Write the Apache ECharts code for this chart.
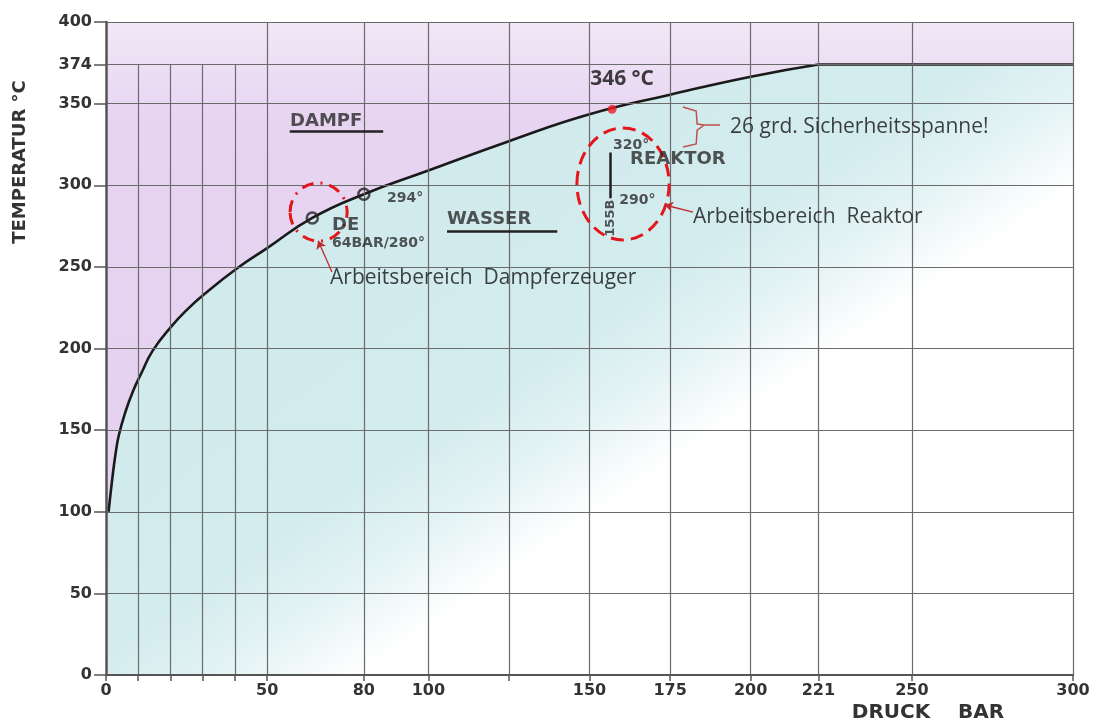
<!DOCTYPE html>
<html>
<head>
<meta charset="utf-8">
<title>Dampfdruckkurve Wasser</title>
<script src="https://cdn.jsdelivr.net/npm/echarts@6/dist/echarts.min.js"></script>
<style>
    html, body { margin: 0; padding: 0; background: #fff; }
    #chart { width: 1096px; height: 721px; }
</style>
</head>
<body>
<div id="chart"></div>
<script>
/* ---------- data ---------- */

// Sattdampfkurve (Druck bar / Temperatur °C)
var druck = [0.8, 2, 3, 4, 6, 8.4, 11, 14.6, 20.5, 25, 30, 40.6, 50, 64, 80, 100, 125, 150, 175, 200, 221];
var temperatur = [100, 121, 136, 147, 161, 174, 185, 199, 214, 223.5, 232.5, 249, 261.5, 280, 294.5, 309, 327, 343.5, 355.5, 366.5, 374];
// kritischer Punkt -> waagerecht weiter
var druckUeberkritisch = [221, 300];
var tempUeberkritisch = [374, 374];

var xTicks = [0, 10, 20, 30, 40, 50, 80, 100, 125, 150, 175, 200, 221, 250, 300];
var xLabels = [0, 50, 80, 100, 150, 175, 200, 221, 250, 300];
var yLabels = [0, 50, 100, 150, 200, 250, 300, 350, 374, 400];
var xLinienKurz = [10, 20, 30, 40];          // enden bei 374
var xLinienLang = [50, 80, 100, 125, 150, 175, 200, 221, 250, 300];
var yLinien = [50, 100, 150, 200, 250, 300, 350, 374, 400];

var kreisPunkte = [[64, 280], [80, 294.5]];
var grenzPunkt = [[157, 346.5]];
var reaktorStrich = [[156.4, 292], [156.4, 320]];

// Bereiche: [pMin, pMax, tMin, tMax]
var bereiche = [[57.1, 74.8, 265.8, 301.4], [146.1, 174.7, 266.5, 335.1]];

var pfeilDE = [[70.1, 246.8], [65.8, 266]];
var pfeilReaktor = [[182.1, 283.6], [173.4, 287.9]];
var klammerOben = [[179, 347.9], [183.1, 345.5], [183.4, 337.5], [185.6, 336.9], [190.5, 336.9]];
var klammerUnten = [[185.6, 336.9], [183.4, 333.8], [183.1, 325.3], [179, 323.4]];
var unterstrichDampf = [[57, 333.2], [86, 333.2]];
var unterstrichWasser = [[105.8, 272], [140, 272]];

var grossText = ['DAMPF', 'WASSER', 'DE', 'REAKTOR'];
var grossAt = [[57.1, 339.4], [105.8, 279], [70.1, 275.6], [162.6, 316.1]];
var kleinText = ['294°', '64BAR/280°', '320°', '290°'];
var kleinAt = [[87.2, 292.2], [70.1, 264.6], [157.3, 324.6], [159.2, 291]];
var senkText = ['155B'];
var senkAt = [[156.4, 268.5]];
var hinweisText = ['26 grd. Sicherheitsspanne!', 'Arbeitsbereich  Reaktor', 'Arbeitsbereich  Dampferzeuger'];
var hinweisAt = [[193.6, 335.7], [182.1, 280.5], [69.5, 243.2]];
var gradText = ['346 °C'];
var gradAt = [[150.2, 365.1]];

/* ---------- helpers ---------- */

function zip(xs, ys) {
    return xs.map(function (x, i) { return [x, ys[i]]; });
}

function textSerie(texts, coords, label) {
    return {
        type: 'scatter',
        z: 8,
        silent: true,
        symbolSize: 1,
        itemStyle: { color: 'transparent' },
        data: coords.map(function (c, i) { return { value: c, name: texts[i] }; }),
        label: Object.assign({
            show: true,
            position: 'inside',
            align: 'left',
            verticalAlign: 'middle',
            formatter: '{b}'
        }, label)
    };
}

/* ---------- chart ---------- */

var chart = echarts.init(document.getElementById('chart'));

var wasserFarbe = new echarts.graphic.LinearGradient(0, 0, 563, 826, [
    { offset: 0, color: '#cde8eb' },
    { offset: 0.6, color: '#d3ecee' },
    { offset: 0.68, color: '#e4f3f4' },
    { offset: 0.76, color: '#ffffff' },
    { offset: 1, color: '#ffffff' }
], true);

var gridLinien = xLinienLang.map(function (v) { return { xAxis: v }; })
    .concat(yLinien.map(function (v) { return { yAxis: v }; }))
    .concat(xLinienKurz.map(function (v) { return [{ coord: [v, 0] }, { coord: [v, 374] }]; }));

var option = {
    animation: false,
    grid: {
        left: 106, right: 23, top: 22, bottom: 46,
        show: true,
        borderWidth: 0,
        backgroundColor: new echarts.graphic.LinearGradient(0, 0, 0, 1, [
            { offset: 0, color: '#f1e8f7' },
            { offset: 0.15, color: '#e7d4f1' },
            { offset: 0.7, color: '#e5d2f0' },
            { offset: 1, color: '#eee4f5' }
        ])
    },
    xAxis: {
        type: 'value', min: 0, max: 300, z: 10,
        axisLine: { show: true, lineStyle: { color: '#555', width: 2 } },
        axisTick: { show: true, customValues: xTicks, length: 6, lineStyle: { color: '#555', width: 1.5 } },
        axisLabel: { customValues: xLabels, margin: 8, color: '#333', fontFamily: 'DejaVu Sans', fontWeight: 'bold', fontSize: 16 },
        splitLine: { show: false }
    },
    yAxis: {
        type: 'value', min: 0, max: 400, z: 10,
        axisLine: { show: true, lineStyle: { color: '#555', width: 2.5 } },
        axisTick: { show: true, customValues: yLabels, length: 12, lineStyle: { color: '#555', width: 1.5 } },
        axisLabel: { customValues: yLabels, margin: 14, color: '#333', fontFamily: 'DejaVu Sans', fontWeight: 'bold', fontSize: 16 },
        splitLine: { show: false }
    },
    graphic: [
        { type: 'text', x: 20, y: 162, rotation: Math.PI / 2, style: { text: 'TEMPERATUR °C', font: 'bold 18px "DejaVu Sans"', fill: '#333', align: 'center', verticalAlign: 'middle' } },
        { type: 'text', x: 928, y: 713, style: { text: 'DRUCK    BAR', font: 'bold 20px "DejaVu Sans"', fill: '#333', align: 'center', verticalAlign: 'middle' } }
    ],
    series: [
        // Wasser-Flaeche unter der Kurve
        {
            type: 'line', z: 1, silent: true, showSymbol: false,
            smooth: 0.5,
            data: zip(druck, temperatur),
            lineStyle: { opacity: 0 },
            areaStyle: { color: wasserFarbe, opacity: 1 }
        },
        {
            type: 'line', z: 1, silent: true, showSymbol: false,
            data: zip(druckUeberkritisch, tempUeberkritisch),
            lineStyle: { opacity: 0 },
            areaStyle: { color: wasserFarbe, opacity: 1 }
        },
        // Gitter
        {
            type: 'scatter', z: 2, silent: true, data: [],
            markLine: {
                silent: true, symbol: 'none', animation: false,
                label: { show: false },
                lineStyle: { color: '#6b6b6b', width: 1.2, type: 'solid' },
                data: gridLinien
            }
        },
        // Kurve
        {
            type: 'line', z: 4, silent: true, showSymbol: false,
            smooth: 0.5,
            data: zip(druck, temperatur),
            lineStyle: { color: '#1a1a1a', width: 2.6 }
        },
        {
            type: 'line', z: 4, silent: true, showSymbol: false,
            data: zip(druckUeberkritisch, tempUeberkritisch),
            lineStyle: { color: '#1a1a1a', width: 2.6 }
        },
        // Punkte
        {
            type: 'scatter', z: 5, silent: true, symbol: 'circle', symbolSize: 11,
            data: kreisPunkte,
            itemStyle: { color: 'transparent', borderColor: '#222', borderWidth: 2.5 }
        },
        {
            type: 'scatter', z: 6, silent: true, symbolSize: 9,
            data: grenzPunkt,
            itemStyle: { color: '#ee1d23' }
        },
        // Reaktor-Strich und Unterstriche
        {
            type: 'lines', coordinateSystem: 'cartesian2d', z: 5, silent: true,
            symbol: 'none',
            lineStyle: { color: '#222', width: 2.5, opacity: 1 },
            data: [{ coords: reaktorStrich }, { coords: unterstrichDampf }, { coords: unterstrichWasser }]
        },
        // rote Bereiche
        {
            type: 'custom', z: 7, silent: true,
            data: bereiche,
            renderItem: function (params, api) {
                var a = api.coord([api.value(0), api.value(3)]);
                var b = api.coord([api.value(1), api.value(2)]);
                var erster = params.dataIndex === 0;
                return {
                    type: 'ellipse',
                    shape: {
                        cx: (a[0] + b[0]) / 2, cy: (a[1] + b[1]) / 2,
                        rx: Math.abs(b[0] - a[0]) / 2, ry: Math.abs(b[1] - a[1]) / 2
                    },
                    style: {
                        fill: 'none', stroke: '#e3161b', lineWidth: 3,
                        lineDash: erster ? [12, 7, 2, 7] : [13, 7]
                    }
                };
            }
        },
        // Pfeile
        {
            type: 'lines', coordinateSystem: 'cartesian2d', z: 7, silent: true,
            symbol: ['none', 'arrow'], symbolSize: 8,
            lineStyle: { color: '#c0282d', width: 1.3, opacity: 1 },
            data: [{ coords: pfeilDE }, { coords: pfeilReaktor }]
        },
        // Klammer
        {
            type: 'lines', coordinateSystem: 'cartesian2d', z: 7, silent: true, polyline: true,
            symbol: 'none',
            lineStyle: { color: '#c0504d', width: 1.5, opacity: 1 },
            data: [{ coords: klammerOben }, { coords: klammerUnten }]
        },
        // Beschriftungen
        textSerie(grossText, grossAt, { color: '#2b2b2b', fontFamily: 'DejaVu Sans', fontWeight: 'bold', fontSize: 18 }),
        textSerie(kleinText, kleinAt, { color: '#2b2b2b', fontFamily: 'DejaVu Sans', fontWeight: 'bold', fontSize: 14 }),
        textSerie(senkText, senkAt, { color: '#2b2b2b', fontFamily: 'DejaVu Sans', fontWeight: 'bold', fontSize: 13, rotate: 90 }),
        textSerie(hinweisText, hinweisAt, { color: '#111', fontFamily: 'Open Sans', fontSize: 21 }),
        textSerie(gradText, gradAt, { color: '#111', fontFamily: 'Open Sans', fontWeight: 'bold', fontSize: 21 })
    ]
};

chart.setOption(option);
</script>
</body>
</html>
